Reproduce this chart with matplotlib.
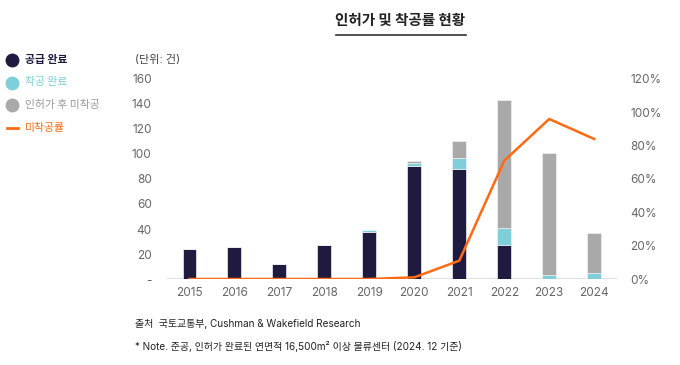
import numpy as np
import matplotlib
matplotlib.use("Agg")
import matplotlib.pyplot as plt
from matplotlib.lines import Line2D

plt.rcParams["font.family"] = ["Inter", "Noto Sans CJK KR", "DejaVu Sans"]

YEARS      = ["2015", "2016", "2017", "2018", "2019", "2020", "2021", "2022", "2023", "2024"]
COMPLETED  = [24, 26, 12, 27, 38, 90, 88, 27, 0, 0]     # 공급 완료
STARTED    = [0, 0, 0, 0, 1, 3, 9, 14, 3, 5]           # 착공 완료
NOT_START  = [0, 0, 0, 0, 0, 1, 13, 102, 98, 32]       # 인허가 후 미착공
RATE       = [0, 0, 0, 0, 0, 1, 11, 71, 96, 84]        # 미착공률 (%)

NAVY   = "#1e1a40"
CYAN   = "#7ecfd9"
GRAY   = "#a9a9a9"
ORANGE = "#ff6a13"
TICK   = "#666666"
KR     = ["Noto Sans CJK KR", "DejaVu Sans"]

fig = plt.figure(figsize=(6.8, 3.65), dpi=100)
fig.patch.set_facecolor("white")
ax = fig.add_axes([0.2456, 0.2356, 0.6613, 0.548])

x = np.arange(len(YEARS))
w = 0.31
comp = np.array(COMPLETED)
stt  = np.array(STARTED)
nst  = np.array(NOT_START)
ax.bar(x, comp, w, color=NAVY, edgecolor="#f0f0f0", linewidth=0.5, zorder=2)
ax.bar(x, stt, w, bottom=comp, color=CYAN, edgecolor="#f0f0f0", linewidth=0.5, zorder=2)
ax.bar(x, nst, w, bottom=comp + stt, color=GRAY, edgecolor="#f0f0f0", linewidth=0.5, zorder=2)

ax.set_xlim(-0.5, len(YEARS) - 0.5)
ax.set_ylim(0, 160)
ax.axhline(0, color="#e0e0e0", linewidth=1.5, zorder=1)
ax.set_xticks(x)
ax.set_xticklabels(YEARS, fontsize=8.5, color=TICK)
ax.set_yticks(range(0, 161, 20))
ax.set_yticklabels(["-"] + [str(v) for v in range(20, 161, 20)], fontsize=8.5, color=TICK)
ax.tick_params(length=0)
ax.tick_params(axis="y", pad=11)
ax.tick_params(axis="x", pad=6)
for s in ax.spines.values():
    s.set_visible(False)

ax2 = ax.twinx()
ax2.plot(x, RATE, color=ORANGE, linewidth=1.8, zorder=3)
ax2.set_ylim(0, 120)
ax2.set_yticks(range(0, 121, 20))
ax2.set_yticklabels([f"{v}%" for v in range(0, 121, 20)], fontsize=8.5, color=TICK)
ax2.tick_params(length=0, pad=10)
for s in ax2.spines.values():
    s.set_visible(False)

fig.text(135 / 680, 1 - 60 / 365, "(단위: 건)", fontsize=8, color="#444444", va="center")

# title with underline
fig.text(400 / 680, 1 - 20 / 365, "인허가 및 착공률 현황", fontsize=10.5, fontweight="bold",
         color="#222222", ha="center", va="center", family=KR)
fig.add_artist(Line2D([336 / 680, 466 / 680], [1 - 35 / 365] * 2, color="#333333", linewidth=1.2))

# legend
items = [("공급 완료", NAVY, "o", NAVY), ("착공 완료", CYAN, "o", CYAN),
         ("인허가 후 미착공", GRAY, "o", "#999999"), ("미착공률", ORANGE, "-", ORANGE)]
for i, (lab, col, mk, tcol) in enumerate(items):
    yy = 1 - (60 + i * 22.5) / 365
    if mk == "o":
        fig.add_artist(Line2D([12 / 680], [yy], marker="o", markersize=9, color=col, linestyle=""))
    else:
        fig.add_artist(Line2D([7 / 680, 18 / 680], [yy, yy], color=col, linewidth=2))
    fig.text(25 / 680, yy, lab, fontsize=7.8, color=tcol, va="center", family=KR,
             fontweight="bold" if i == 0 else "normal")

# footer
fig.text(135 / 680, 1 - 324 / 365, "출처  국토교통부, Cushman & Wakefield Research",
         fontsize=7.2, color="#222222", va="center")
fig.text(135 / 680, 1 - 346 / 365, "* Note. 준공, 인허가 완료된 연면적 16,500m² 이상 물류센터 (2024. 12 기준)",
         fontsize=7.2, color="#222222", va="center")

fig.savefig("out.png", dpi=100, facecolor="white")
